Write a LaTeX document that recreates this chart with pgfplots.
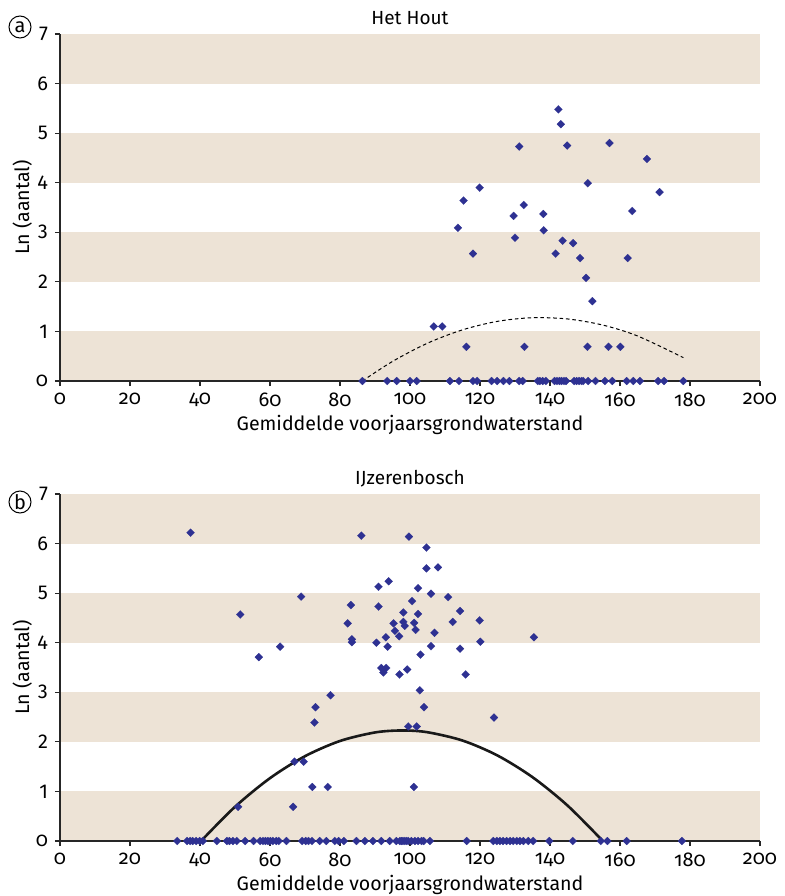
\documentclass[border=0pt]{standalone}
\usepackage{fontspec}
\setmainfont{Fira Sans}
\newfontfamily\osf{Fira Sans}[Numbers=OldStyle]
\usepackage{pgfplots}
\pgfplotsset{compat=1.18}
\definecolor{band}{HTML}{EDE3D6}
\definecolor{dots}{HTML}{2E3192}

\pgfplotsset{
  panel/.style={
    scale only axis, width=350pt, height=173.5pt,
    xmin=0, xmax=200, ymin=0, ymax=7,
    axis x line*=bottom, axis y line*=left,
    axis line style={-, black!85, line width=0.6pt},
    xtick={0,20,...,200}, ytick={0,...,7},
    yticklabels={{\osf 0},1,2,3,4,5,6,7},
    tick align=outside, major tick length=2.5pt,
    tick style={black!85, line width=0.6pt},
    /pgf/number format/assume math mode=true,
    xticklabel style={font=\osf\fontsize{10}{12}\selectfont},
    yticklabel style={font=\fontsize{10}{12}\selectfont},
    xlabel={Gemiddelde voorjaarsgrondwaterstand},
    ylabel={Ln (aantal)},
    label style={font=\fontsize{9.8}{11}\selectfont},
    x label style={at={(axis description cs:0.5,-0.127)}, anchor=center},
    y label style={at={(axis description cs:-0.054,0.5)}, anchor=center},
    every axis title shift=0pt,
    title style={font=\fontsize{9.5}{11}\selectfont, at={(axis description cs:0.5,1)}, yshift=7.75pt, anchor=center},
    clip=false,
  },
  dotstyle/.style={only marks, mark=square*, mark size=1.4pt,
    mark options={rotate=45, fill=dots, draw=dots, line width=0.1pt}},
}

\newcommand{\bands}{%
    \fill[band] (axis cs:0.2,0.015) rectangle (axis cs:200,1);
    \fill[band] (axis cs:0.2,2) rectangle (axis cs:200,3);
    \fill[band] (axis cs:0.2,4) rectangle (axis cs:200,5);
    \fill[band] (axis cs:0.2,6) rectangle (axis cs:200,7);}

\begin{document}
\begin{tikzpicture}

% (a) Het Hout
\begin{axis}[panel, at={(0,0)}, anchor=south west, title={Het Hout}]
\bands
\addplot[black, line width=0.5pt, dash pattern=on 1.8pt off 1.4pt, smooth] coordinates {
  (86.4,0) (95,0.395) (105,0.763) (115,1.032) (125,1.204) (135,1.277)
  (145,1.252) (155,1.130) (165,0.909) (178.1,0.472)};
\addplot[dotstyle] coordinates {
  (142.4,5.48) (143.1,5.18) (131.2,4.73) (144.9,4.75) (157.0,4.80) (167.7,4.48)
  (150.8,3.99) (119.9,3.90) (115.3,3.64) (171.3,3.81) (132.5,3.55) (129.6,3.33)
  (138.1,3.37) (163.5,3.43) (113.7,3.09) (138.2,3.04) (130.0,2.89) (143.6,2.83)
  (146.6,2.78) (118.0,2.57) (141.6,2.57) (148.6,2.48) (162.2,2.48) (150.3,2.08)
  (152.1,1.61) (106.8,1.10) (109.2,1.10) (116.1,0.69) (132.7,0.69) (150.7,0.69)
  (156.7,0.69) (160.1,0.69)
};
\addplot[dotstyle] coordinates {
  (86.4,0) (93.5,0) (96.2,0) (100.0,0) (101.9,0) (111.4,0) (114.0,0) (118.0,0)
  (119.2,0) (123.3,0) (124.9,0) (126.7,0) (128.4,0) (131.2,0) (132.2,0) (136.5,0)
  (137.1,0) (137.9,0) (138.8,0) (141.3,0) (142.0,0) (142.7,0) (143.3,0) (144.0,0)
  (144.6,0) (146.9,0) (147.6,0) (148.3,0) (149.0,0) (149.5,0) (150.9,0) (153.0,0)
  (155.7,0) (157.8,0) (161.9,0) (163.8,0) (165.7,0) (170.9,0) (172.6,0) (178.1,0)
};
\end{axis}
\node[draw, circle, line width=0.5pt, minimum size=11pt, inner sep=0pt,
  font=\fontsize{10}{11}\selectfont] at (-20pt,177pt) {a};

% (b) IJzerenbosch
\begin{axis}[panel, at={(0,-230pt)}, anchor=south west, title={IJzerenbosch}]
\bands
\addplot[black!90, line width=1.3pt, smooth] coordinates {
  (40.3,0) (50,0.69) (60,1.268) (70,1.711) (80,2.018) (90,2.19) (97.7,2.23)
  (105,2.194) (115,2.027) (125,1.725) (135,1.288) (145,0.716) (155.1,0)};
\addplot[dotstyle] coordinates {
  (37.3,6.22) (86.1,6.16) (99.7,6.14) (104.7,5.92) (104.7,5.50) (108.0,5.52)
  (91.0,5.13) (93.9,5.24) (68.9,4.93) (102.3,5.10) (106.0,4.99) (110.9,4.92)
  (51.5,4.57) (83.1,4.76) (91.0,4.73) (100.6,4.84) (98.1,4.61) (102.3,4.58)
  (114.3,4.64) (82.2,4.39) (95.3,4.39) (98.1,4.42) (98.5,4.34) (101.2,4.40)
  (112.2,4.42) (119.9,4.45) (95.7,4.24) (101.6,4.26) (96.9,4.13) (93.1,4.11)
  (107.0,4.20) (83.4,4.07) (83.4,4.01) (90.4,4.00) (93.6,3.92) (106.0,3.93)
  (114.3,3.88) (120.1,4.02) (135.4,4.11) (62.9,3.92) (56.8,3.71) (103.0,3.76)
  (91.8,3.49) (93.2,3.49) (92.4,3.40) (97.0,3.36) (99.2,3.46) (115.9,3.36)
  (102.8,3.04) (77.3,2.94) (104.0,2.70) (73.0,2.70) (72.7,2.39) (124.0,2.49)
  (99.5,2.31) (101.9,2.31) (67.0,1.60) (69.6,1.60) (72.1,1.09) (76.5,1.09)
  (101.1,1.09) (66.6,0.69) (50.9,0.69)
};
\addplot[dotstyle] coordinates {
  (33.5,0) (36.3,0) (37.2,0) (37.9,0) (38.9,0) (39.9,0) (40.8,0) (44.8,0)
  (47.7,0) (48.4,0) (49.4,0) (50.5,0) (52.9,0) (55.3,0) (57.2,0) (58.0,0)
  (58.7,0) (59.4,0) (60.1,0) (60.8,0) (61.8,0) (62.5,0) (64.7,0) (69.2,0)
  (70.2,0) (71.0,0) (72.0,0) (74.2,0) (76.1,0) (78.5,0) (79.6,0) (81.1,0)
  (84.7,0) (87.1,0) (89.4,0) (91.8,0) (94.2,0) (96.1,0) (97.1,0) (98.0,0)
  (99.0,0) (97.6,0) (98.5,0) (99.5,0) (100.4,0) (101.4,0) (102.3,0) (103.3,0)
  (103.9,0) (105.7,0) (116.2,0) (123.8,0) (124.8,0) (125.7,0) (126.6,0) (127.6,0)
  (128.6,0) (129.5,0) (130.5,0) (131.4,0) (132.4,0) (133.8,0) (135.2,0) (139.8,0)
  (146.5,0) (154.5,0) (156.4,0) (161.9,0) (177.7,0)
};
\end{axis}
\node[draw, circle, line width=0.5pt, minimum size=11pt, inner sep=0pt,
  font=\fontsize{10}{11}\selectfont] at (-20pt,-60.5pt) {b};
\pgfresetboundingbox
\useasboundingbox (-30pt,-257.5pt) rectangle (362pt,190.5pt);
\end{tikzpicture}
\end{document}
